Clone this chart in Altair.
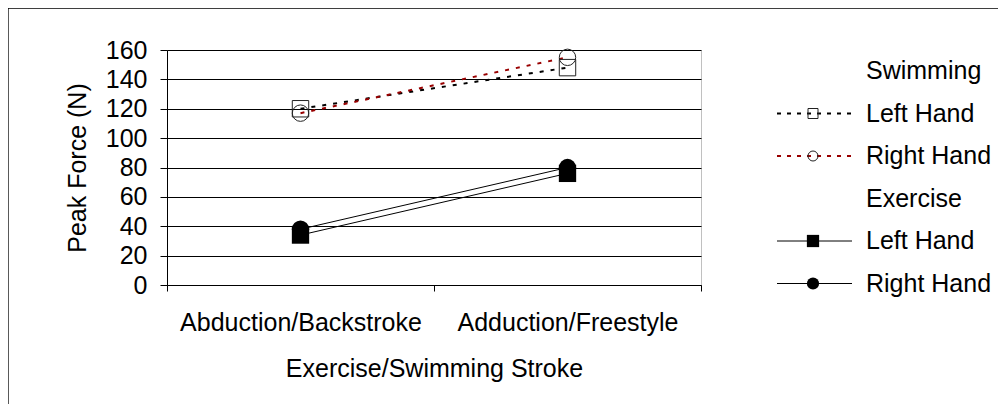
import altair as alt
import pandas as pd

# ---- data ----
strokes = ["Abduction/Backstroke", "Adduction/Freestyle"]
hands = ["Left Hand", "Right Hand"]
swim_left = [120, 148]
swim_right = [117, 155]
ex_left = [34, 76]
ex_right = [38, 80]
y_ticks = [0, 20, 40, 60, 80, 100, 120, 140, 160]

FONT = "Liberation Sans"
FS = 25
DARKRED = "#990000"

swim = pd.DataFrame({
    "stroke": strokes * 2,
    "hand": [hands[0]] * 2 + [hands[1]] * 2,
    "force": swim_left + swim_right,
})
exer = pd.DataFrame({
    "stroke": strokes * 2,
    "hand": [hands[0]] * 2 + [hands[1]] * 2,
    "force": ex_left + ex_right,
})

xscale = alt.Scale(domain=strokes, paddingInner=0, paddingOuter=0)
yscale = alt.Scale(domain=[0, 160], nice=False)
shape_scale = alt.Scale(domain=hands, range=["square", "circle"])
color_scale = alt.Scale(domain=hands, range=["black", DARKRED])

y_enc = alt.Y("force:Q", scale=yscale, axis=alt.Axis(
    values=y_ticks, grid=True, gridColor="black", gridWidth=1,
    domainColor="black", tickColor="black", tickSize=7, labelPadding=13,
    labelFontSize=FS, labelFont=FONT, labelColor="black", labelBaseline="middle",
    title="Peak Force (N)", titleFontSize=FS, titleFont=FONT, titleFontWeight="normal",
    titleColor="black", titleAngle=-90, titleX=-90, titleY=117.5,
    titleAlign="center", titleBaseline="middle"))

x_enc = alt.X("stroke:N", scale=xscale, sort=strokes, axis=alt.Axis(
    orient="bottom", tickBand="extent", ticks=True, tickSize=6, tickColor="black",
    domain=True, domainColor="black", grid=False,
    labelPadding=31, labelBaseline="middle", labelFontSize=FS,
    labelFont=FONT, labelColor="black", labelAngle=0, labelLimit=0,
    labelOverlap=False,
    title="Exercise/Swimming Stroke", titleFontSize=FS, titleFont=FONT,
    titleFontWeight="normal", titleColor="black",
    titleX=267, titleY=83, titleBaseline="middle", titleAlign="center"))

sw_lines = alt.Chart(swim).mark_line(strokeDash=[4, 7], strokeWidth=2).encode(
    x=x_enc, y=y_enc,
    color=alt.Color("hand:N", scale=color_scale, legend=None),
    detail="hand:N",
)
ex_lines = alt.Chart(exer).mark_line(color="black", strokeWidth=1).encode(
    x=x_enc, y=y_enc, detail="hand:N",
)
sw_points = alt.Chart(swim).mark_point(filled=False, size=270, color="#222", strokeWidth=1,
                                       opacity=1).encode(
    x=x_enc, y=y_enc,
    shape=alt.Shape("hand:N", scale=shape_scale, legend=None),
)
ex_points = alt.Chart(exer).mark_point(filled=True, size=300, color="black", opacity=1).encode(
    x=x_enc, y=y_enc,
    shape=alt.Shape("hand:N", scale=shape_scale, legend=None),
)

# ---- hand-made legend (layout positions, in plot pixels) ----
leg_rows = [("Swimming", "head", ""), ("Left Hand", "swim", hands[0]),
            ("Right Hand", "swim", hands[1]), ("Exercise", "head", ""),
            ("Left Hand", "exer", hands[0]), ("Right Hand", "exer", hands[1])]
legend = pd.DataFrame({
    "label": [r[0] for r in leg_rows],
    "group": [r[1] for r in leg_rows],
    "hand": [r[2] for r in leg_rows],
    "py": [21 + i * 42.5 for i in range(len(leg_rows))],
})
leg_swim = legend[legend.group == "swim"]
leg_exer = legend[legend.group == "exer"]

leg_text = alt.Chart(legend).mark_text(align="left", baseline="middle", fontSize=FS,
                                       font=FONT, color="black").encode(
    x=alt.value(699), y=alt.Y("py:Q", scale=None), text="label:N")
leg_sw_rule = alt.Chart(leg_swim).mark_rule(strokeDash=[4, 6], strokeWidth=2).encode(
    x=alt.value(610), x2=alt.value(685), y=alt.Y("py:Q", scale=None),
    color=alt.Color("hand:N", scale=color_scale, legend=None))
leg_ex_rule = alt.Chart(leg_exer).mark_rule(color="black", strokeWidth=1).encode(
    x=alt.value(610), x2=alt.value(685), y=alt.Y("py:Q", scale=None))
leg_sw_pt = alt.Chart(leg_swim).mark_point(filled=False, size=100, color="#222",
                                           strokeWidth=1, opacity=1).encode(
    x=alt.value(646), y=alt.Y("py:Q", scale=None),
    shape=alt.Shape("hand:N", scale=shape_scale, legend=None))
leg_ex_pt = alt.Chart(leg_exer).mark_point(filled=True, size=150, color="black",
                                           opacity=1).encode(
    x=alt.value(646), y=alt.Y("py:Q", scale=None),
    shape=alt.Shape("hand:N", scale=shape_scale, legend=None))

frame = alt.Chart(pd.DataFrame({"k": [0]})).mark_rect(
    stroke="black", strokeWidth=1.3, fillOpacity=0).encode(
    x=alt.value(-159), x2=alt.value(1000), y=alt.value(-42), y2=alt.value(600))

chart = alt.layer(
    sw_lines, ex_lines, sw_points, ex_points,
    leg_sw_rule, leg_ex_rule, leg_sw_pt, leg_ex_pt, leg_text, frame,
).properties(
    width=534, height=235,
    autosize=alt.AutoSizeParams(type="none"),
    padding={"left": 159, "top": 42, "right": 297, "bottom": 119},
).configure(font=FONT).configure_view(stroke="#c0c0c0")

chart.save("out.html", embed_options={"renderer": "svg", "actions": False})
